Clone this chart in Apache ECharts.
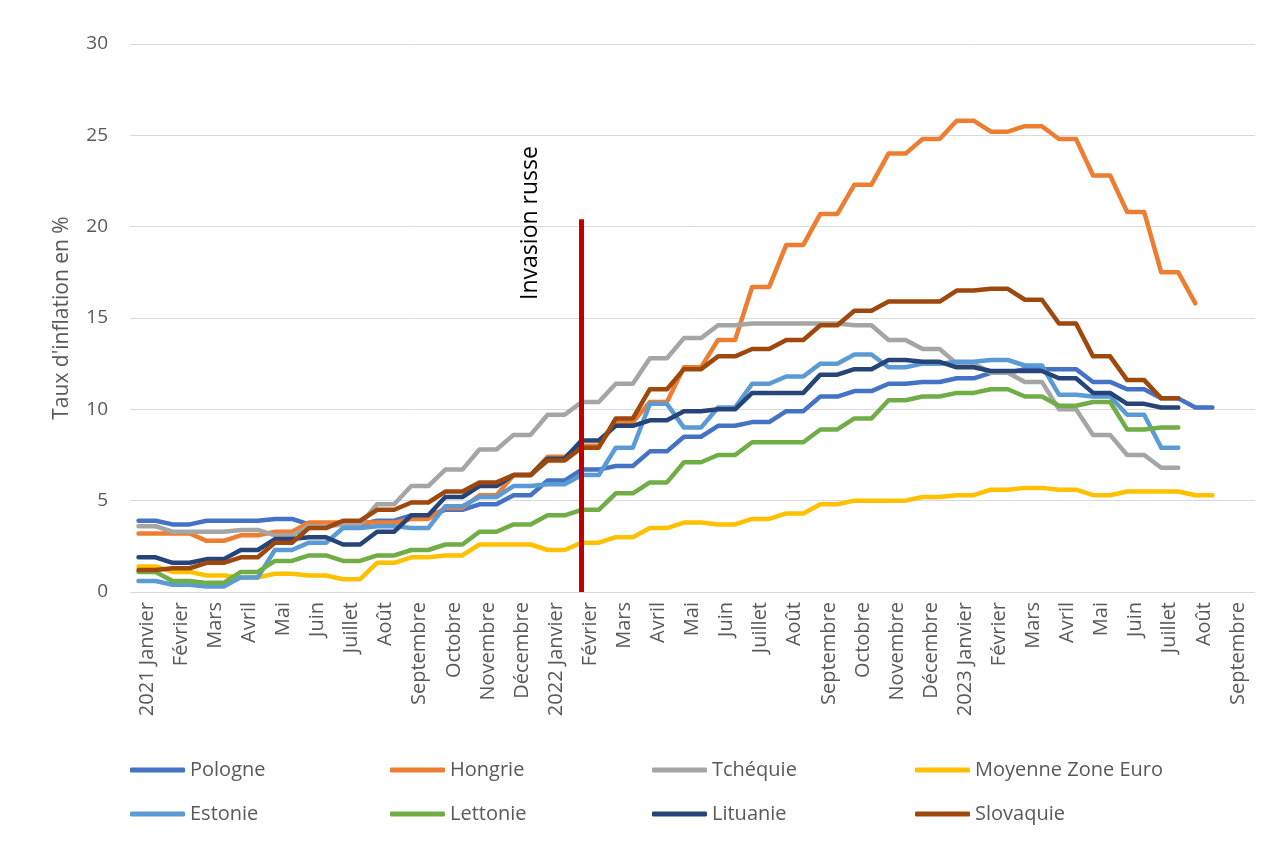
<!DOCTYPE html>
<html>
<head>
<meta charset="utf-8">
<title>Inflation Europe centrale</title>
<script src="https://cdn.jsdelivr.net/npm/echarts@6/dist/echarts.min.js"></script>
<style>
  html, body { margin: 0; padding: 0; background: #fff; }
  #chart { width: 1270px; height: 841px; }
</style>
</head>
<body>
<div id="chart"></div>
<script>
// mois affichés sur l'axe
const months = ['2021 Janvier', 'Février', 'Mars', 'Avril', 'Mai', 'Juin', 'Juillet', 'Août', 'Septembre',
  'Octobre', 'Novembre', 'Décembre', '2022 Janvier', 'Février', 'Mars', 'Avril', 'Mai', 'Juin', 'Juillet',
  'Août', 'Septembre', 'Octobre', 'Novembre', 'Décembre', '2023 Janvier', 'Février', 'Mars', 'Avril', 'Mai',
  'Juin', 'Juillet', 'Août', 'Septembre']

// taux d'inflation mensuels (%)
const pologne = [3.9, 3.7, 3.9, 3.9, 4.0, 3.7, 3.7, 3.9, 4.2, 4.5, 4.8, 5.3, 6.1, 6.7, 6.9, 7.7, 8.5, 9.1, 9.3, 9.9, 10.7, 11.0, 11.4, 11.5, 11.7, 12.0, 12.2, 12.2, 11.5, 11.1, 10.6, 10.1]
const hongrie = [3.2, 3.2, 2.8, 3.1, 3.3, 3.8, 3.8, 3.8, 4.0, 4.6, 5.3, 6.4, 7.4, 8.0, 9.3, 10.4, 12.3, 13.8, 16.7, 19.0, 20.7, 22.3, 24.0, 24.8, 25.8, 25.2, 25.5, 24.8, 22.8, 20.8, 17.5, 15.8]
const tchequie = [3.6, 3.3, 3.3, 3.4, 3.1, 3.6, 3.7, 4.8, 5.8, 6.7, 7.8, 8.6, 9.7, 10.4, 11.4, 12.8, 13.9, 14.6, 14.7, 14.7, 14.7, 14.6, 13.8, 13.3, 12.5, 12.0, 11.5, 10.0, 8.6, 7.5, 6.8]
const zoneEuro = [1.4, 1.1, 0.9, 0.8, 1.0, 0.9, 0.7, 1.6, 1.9, 2.0, 2.6, 2.6, 2.3, 2.7, 3.0, 3.5, 3.8, 3.7, 4.0, 4.3, 4.8, 5.0, 5.0, 5.2, 5.3, 5.6, 5.7, 5.6, 5.3, 5.5, 5.5, 5.3]
const estonie = [0.6, 0.4, 0.3, 0.8, 2.3, 2.7, 3.5, 3.6, 3.5, 4.7, 5.2, 5.8, 5.9, 6.4, 7.9, 10.3, 9.0, 10.1, 11.4, 11.8, 12.5, 13.0, 12.3, 12.5, 12.6, 12.7, 12.4, 10.8, 10.7, 9.7, 7.9]
const lettonie = [1.1, 0.6, 0.5, 1.1, 1.7, 2.0, 1.7, 2.0, 2.3, 2.6, 3.3, 3.7, 4.2, 4.5, 5.4, 6.0, 7.1, 7.5, 8.2, 8.2, 8.9, 9.5, 10.5, 10.7, 10.9, 11.1, 10.7, 10.2, 10.4, 8.9, 9.0]
const lituanie = [1.9, 1.6, 1.8, 2.3, 2.9, 3.0, 2.6, 3.3, 4.2, 5.2, 5.8, 6.4, 7.3, 8.3, 9.1, 9.4, 9.9, 10.0, 10.9, 10.9, 11.9, 12.2, 12.7, 12.6, 12.3, 12.1, 12.1, 11.7, 10.9, 10.3, 10.1]
const slovaquie = [1.2, 1.3, 1.6, 1.9, 2.7, 3.5, 3.9, 4.5, 4.9, 5.5, 6.0, 6.4, 7.2, 7.9, 9.5, 11.1, 12.2, 12.9, 13.3, 13.8, 14.6, 15.4, 15.9, 15.9, 16.5, 16.6, 16.0, 14.7, 12.9, 11.6, 10.6]

// invasion russe : début février 2022
const invasionMonth = 13
const invasionTop = 20.4
const invasionLabelY = 20.2

// chaque mois occupe deux points (comme dans le tableur d'origine)
const halves = months.flatMap((m, i) => [i + 'a', i + 'b'])
const pairs = arr => arr.flatMap(v => [v, v])

const colors = ['#4472C4', '#ED7D31', '#A5A5A5', '#FFC000', '#5B9BD5', '#70AD47', '#264478', '#9E480E']
const names = ['Pologne', 'Hongrie', 'Tchéquie', 'Moyenne Zone Euro', 'Estonie', 'Lettonie', 'Lituanie', 'Slovaquie']
const values = [
  pairs(pologne),
  pairs(hongrie).slice(0, 63),
  pairs(tchequie),
  pairs(zoneEuro),
  pairs(estonie),
  pairs(lettonie),
  pairs(lituanie),
  pairs(slovaquie)
]

const font = "'Open Sans', 'Noto Sans', sans-serif"
const grey = '#595959'

const chart = echarts.init(document.getElementById('chart'))

const series = names.map((name, k) => ({
  name: name,
  type: 'line',
  xAxisIndex: 0,
  data: values[k],
  symbol: 'none',
  showSymbol: false,
  color: colors[k],
  lineStyle: { width: 4.5, color: colors[k], cap: 'round', join: 'round' },
  emphasis: { disabled: true }
}))

// ligne rouge + texte
series[series.length - 1].markLine = {
  silent: true,
  symbol: ['none', 'none'],
  label: { show: false },
  lineStyle: { color: '#C00000', width: 5, type: 'solid' },
  data: [[
    { coord: [halves[invasionMonth * 2], 0] },
    { coord: [halves[invasionMonth * 2], invasionTop] }
  ]]
}
series[series.length - 1].markPoint = {
  silent: true,
  symbol: 'circle',
  symbolSize: 0,
  data: [{
    coord: [halves[invasionMonth * 2 - 3], invasionLabelY],
    label: {
      show: true,
      position: 'inside',
      formatter: 'Invasion russe',
      rotate: 90,
      fontSize: 23,
      fontFamily: font,
      color: '#000'
    }
  }]
}

// légende en 4 colonnes de 2
const legendCols = [[0, 4], [1, 5], [2, 6], [3, 7]]
const legendLeft = [130, 390, 652, 915]
const legend = legendCols.map((col, c) => ({
  left: legendLeft[c],
  top: 758,
  padding: 0,
  orient: 'vertical',
  selectedMode: false,
  icon: 'roundRect',
  itemWidth: 55,
  itemHeight: 5,
  itemGap: 20,
  data: col.map(k => names[k]),
  textStyle: { color: grey, fontSize: 20, fontFamily: font, lineHeight: 24 }
}))

const option = {
  animation: false,
  textStyle: { fontFamily: font },
  grid: { left: 130, right: 15, top: 44, bottom: 249, containLabel: false },
  legend: legend,
  xAxis: [
    {
      type: 'category',
      data: halves,
      boundaryGap: true,
      show: false
    },
    {
      type: 'category',
      data: months,
      boundaryGap: true,
      position: 'bottom',
      axisLine: { show: false },
      axisTick: { show: false },
      axisLabel: {
        interval: 0,
        rotate: 90,
        margin: 10,
        fontSize: 20,
        color: grey,
        fontFamily: font
      }
    }
  ],
  yAxis: {
    type: 'value',
    min: 0,
    max: 30,
    interval: 5,
    name: "Taux d'inflation en %",
    nameLocation: 'middle',
    nameRotate: 90,
    nameGap: 57,
    nameTextStyle: { fontSize: 21, color: grey, fontFamily: font },
    axisLine: { show: false },
    axisTick: { show: false },
    axisLabel: { fontSize: 19, color: grey, margin: 22, fontFamily: font },
    splitLine: { lineStyle: { color: '#D9D9D9', width: 1 } }
  },
  series: series
}

chart.setOption(option)
</script>
</body>
</html>
